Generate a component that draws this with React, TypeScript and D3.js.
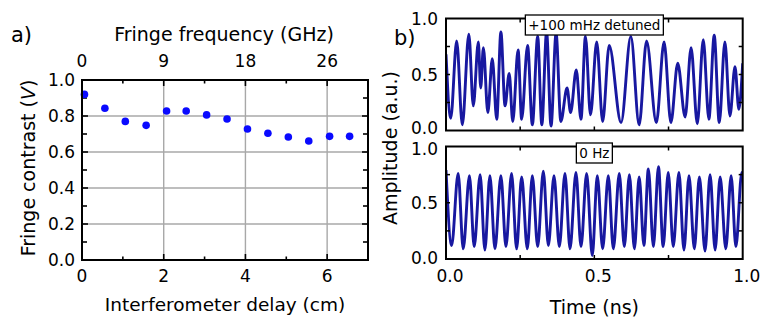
import React from 'react';
import * as d3 from 'd3';

// ---------- Panel a) data ----------
const delayCm = [0.06, 0.56, 1.06, 1.57, 2.07, 2.55, 3.05, 3.55, 4.05, 4.55, 5.05, 5.55, 6.06, 6.55];
const fringeContrast = [0.92, 0.843, 0.77, 0.748, 0.828, 0.828, 0.806, 0.783, 0.728, 0.704, 0.683, 0.661, 0.687, 0.687];
const delayTicks = [0, 2, 4, 6];
const delayMinorTicks = [1, 3, 5];
const contrastTicks = [0, 0.2, 0.4, 0.6, 0.8, 1.0];
const contrastMinorTicks = [0.1, 0.3, 0.5, 0.7, 0.9];
const freqTickLabels = ['0', '9', '18', '26'];

// ---------- Panel b) data (extrema read from the traces) ----------
const detunedTime = [0, 0.016, 0.036, 0.055, 0.077, 0.092, 0.109, 0.117, 0.126, 0.141, 0.156, 0.171, 0.185, 0.199, 0.213, 0.225, 0.243, 0.255, 0.275, 0.291, 0.309, 0.323, 0.339, 0.354, 0.371, 0.387, 0.408, 0.42, 0.439, 0.455, 0.47, 0.487, 0.508, 0.528, 0.55, 0.59, 0.623, 0.651, 0.676, 0.709, 0.735, 0.758, 0.781, 0.806, 0.826, 0.847, 0.867, 0.886, 0.904, 0.921, 0.94, 0.957, 0.974, 0.987, 1.0];
const detunedAmp = [0.68, 0.11, 0.8, 0.05, 0.86, 0.22, 0.79, 0.38, 0.74, 0.16, 0.64, 0.1, 0.88, 0.22, 0.51, 0.08, 0.72, 0.1, 0.76, 0.05, 0.84, 0.05, 0.88, 0.04, 0.87, 0.08, 0.38, 0.16, 0.54, 0.1, 0.84, 0.14, 0.79, 0.08, 0.76, 0.07, 0.84, 0.05, 0.8, 0.07, 0.79, 0.07, 0.6, 0.12, 0.74, 0.06, 0.81, 0.1, 0.85, 0.07, 0.79, 0.13, 0.57, 0.19, 0.6];
const zeroTime = [0, 0.019, 0.041, 0.058, 0.079, 0.095, 0.115, 0.131, 0.148, 0.165, 0.185, 0.202, 0.221, 0.238, 0.255, 0.274, 0.291, 0.309, 0.328, 0.345, 0.364, 0.382, 0.401, 0.418, 0.438, 0.455, 0.474, 0.493, 0.51, 0.528, 0.547, 0.564, 0.584, 0.601, 0.618, 0.635, 0.651, 0.667, 0.682, 0.699, 0.716, 0.732, 0.749, 0.766, 0.785, 0.802, 0.819, 0.837, 0.854, 0.873, 0.89, 0.907, 0.924, 0.943, 0.961, 0.977, 0.997, 1.0];
const zeroAmp = [0.79, 0.12, 0.76, 0.09, 0.74, 0.11, 0.75, 0.08, 0.74, 0.09, 0.74, 0.11, 0.76, 0.09, 0.73, 0.09, 0.74, 0.11, 0.78, 0.12, 0.74, 0.11, 0.76, 0.09, 0.77, 0.11, 0.76, 0.03, 0.74, 0.09, 0.74, 0.09, 0.76, 0.11, 0.75, 0.09, 0.73, 0.12, 0.8, 0.11, 0.82, 0.11, 0.77, 0.11, 0.77, 0.08, 0.74, 0.09, 0.73, 0.07, 0.75, 0.08, 0.73, 0.09, 0.74, 0.11, 0.77, 0.76];
const timeTicks = [0, 0.5, 1.0];
const timeMinorTicks = [0.25, 0.75];
const ampTicks = [0, 0.5, 1.0];
const ampMinorTicks = [0.25, 0.75];

const FONT = "'DejaVu Sans', Verdana, sans-serif";
const GRID = '#a8a8a8';
const DOT = '#0a0aff';
const TRACE = '#1818a0';

type Pt = [number, number];

function WavePanel({ times, amps, x, y, label, labelW, id, lowShift, highShift }: any) {
  const [x0, x1] = x.range();
  const [yb, yt] = y.range();
  const pts: Pt[] = times.map((t: number, i: number) => [t, amps[i]] as Pt);
  const line = d3.line<Pt>().x((d) => x(d[0])).y((d) => y(d[1])).curve(d3.curveMonotoneX);
  const cx = (x0 + x1) / 2;
  return (
    <g>
      <defs>
        <clipPath id={id}>
          <rect x={x0} y={yt} width={x1 - x0} height={yb - yt} />
        </clipPath>
      </defs>
      <path d={line(pts) || ''} fill="none" stroke={TRACE} strokeWidth={2.9} strokeLinejoin="round" clipPath={`url(#${id})`} />
      {timeTicks.concat(timeMinorTicks).filter((t) => t > 0 && t < 1).map((t) => (
        <g key={'xt' + t}>
          <line x1={x(t)} x2={x(t)} y1={yb} y2={yb - 4} stroke="#000" strokeWidth={1.5} />
          <line x1={x(t)} x2={x(t)} y1={yt} y2={yt + 4} stroke="#000" strokeWidth={1.5} />
        </g>
      ))}
      {ampTicks.concat(ampMinorTicks).filter((v) => v > 0 && v < 1).map((v) => (
        <g key={'yt' + v}>
          <line x1={x0} x2={x0 + 4} y1={y(v)} y2={y(v)} stroke="#000" strokeWidth={1.5} />
          <line x1={x1} x2={x1 - 4} y1={y(v)} y2={y(v)} stroke="#000" strokeWidth={1.5} />
        </g>
      ))}
      <rect x={x0} y={yt} width={x1 - x0} height={yb - yt} fill="none" stroke="#000" strokeWidth={2} />
      {ampTicks.map((v) => (
        <text key={'yl' + v} x={x0 - 8} y={y(v) + (v === 0 ? lowShift : v === 1 ? highShift : 0)} dy="0.36em" textAnchor="end" fontSize={17}>
          {d3.format('.1f')(v)}
        </text>
      ))}
      <rect x={cx - labelW / 2} y={yt - 3.5} width={labelW} height={20} fill="#fff" stroke="#000" strokeWidth={1.3} />
      <text x={cx} y={yt + 11.5} textAnchor="middle" fontSize={13.5}>{label}</text>
    </g>
  );
}

export default function App() {
  // Panel a scales
  const xa = d3.scaleLinear().domain([0, 7]).range([82, 368]);
  const ya = d3.scaleLinear().domain([0, 1]).range([260, 80]);
  // Panel b scales
  const xb = d3.scaleLinear().domain([0, 1]).range([446, 742.7]);
  const ybTop = d3.scaleLinear().domain([0, 1]).range([130.5, 18.5]);
  const ybBot = d3.scaleLinear().domain([0, 1]).range([259, 146.5]);

  const [ax0, ax1] = xa.range();
  const [ayb, ayt] = ya.range();

  return (
    <svg width={762} height={320} style={{ position: 'absolute', left: 0, top: 0, background: '#fff' }} fontFamily={FONT}>
      <rect x={0} y={0} width={762} height={320} fill="#fff" />
      {/* ---------- Panel a ---------- */}
      {delayTicks.filter((d) => d > 0).map((d) => (
        <line key={'vg' + d} x1={xa(d)} x2={xa(d)} y1={ayt} y2={ayb} stroke={GRID} strokeWidth={1.4} />
      ))}
      {contrastTicks.filter((v) => v > 0 && v < 1).map((v) => (
        <line key={'hg' + v} x1={ax0} x2={ax1} y1={ya(v)} y2={ya(v)} stroke={GRID} strokeWidth={1.4} />
      ))}
      {delayTicks.filter((d) => d > 0).map((d) => (
        <g key={'dt' + d}>
          <line x1={xa(d)} x2={xa(d)} y1={ayb} y2={ayb - 6} stroke="#000" strokeWidth={1.6} />
          <line x1={xa(d)} x2={xa(d)} y1={ayt} y2={ayt + 6} stroke="#000" strokeWidth={1.6} />
        </g>
      ))}
      {delayMinorTicks.map((d) => (
        <g key={'dm' + d}>
          <line x1={xa(d)} x2={xa(d)} y1={ayb} y2={ayb - 3.5} stroke="#000" strokeWidth={1.6} />
          <line x1={xa(d)} x2={xa(d)} y1={ayt} y2={ayt + 3.5} stroke="#000" strokeWidth={1.6} />
        </g>
      ))}
      {contrastTicks.filter((v) => v > 0 && v < 1).map((v) => (
        <g key={'ct' + v}>
          <line x1={ax0} x2={ax0 + 6} y1={ya(v)} y2={ya(v)} stroke="#000" strokeWidth={1.6} />
          <line x1={ax1} x2={ax1 - 6} y1={ya(v)} y2={ya(v)} stroke="#000" strokeWidth={1.6} />
        </g>
      ))}
      {contrastMinorTicks.map((v) => (
        <g key={'cm' + v}>
          <line x1={ax0} x2={ax0 + 5} y1={ya(v)} y2={ya(v)} stroke="#000" strokeWidth={1.6} />
          <line x1={ax1} x2={ax1 - 5} y1={ya(v)} y2={ya(v)} stroke="#000" strokeWidth={1.6} />
        </g>
      ))}
      {delayCm.map((d, i) => (
        <circle key={'pt' + i} cx={xa(d)} cy={ya(fringeContrast[i])} r={3.8} fill={DOT} />
      ))}
      <rect x={ax0} y={ayt} width={ax1 - ax0} height={ayb - ayt} fill="none" stroke="#000" strokeWidth={2} />
      {contrastTicks.map((v) => (
        <text key={'cl' + v} x={ax0 - 7} y={ya(v)} dy="0.36em" textAnchor="end" fontSize={17}>
          {d3.format('.1f')(v)}
        </text>
      ))}
      {delayTicks.map((d) => (
        <text key={'dl' + d} x={xa(d)} y={282} textAnchor="middle" fontSize={17}>{d}</text>
      ))}
      {delayTicks.map((d, i) => (
        <text key={'fl' + d} x={xa(d)} y={66.5} textAnchor="middle" fontSize={17}>{freqTickLabels[i]}</text>
      ))}
      <text x={(ax0 + ax1) / 2 - 1} y={41} textAnchor="middle" fontSize={19}>Fringe frequency (GHz)</text>
      <text x={(ax0 + ax1) / 2} y={311} textAnchor="middle" fontSize={18.5}>Interferometer delay (cm)</text>
      <text transform={`translate(35,${(ayb + ayt) / 2 - 2}) rotate(-90)`} textAnchor="middle" fontSize={19}>
        Fringe contrast (<tspan fontStyle="italic">V</tspan>)
      </text>
      <text x={11} y={42} fontSize={21}>a)</text>

      {/* ---------- Panel b ---------- */}
      <WavePanel times={detunedTime} amps={detunedAmp} x={xb} y={ybTop} label="+100 mHz detuned" labelW={138} id="clipTop" lowShift={-2.5} highShift={0} />
      <WavePanel times={zeroTime} amps={zeroAmp} x={xb} y={ybBot} label="0 Hz" labelW={36} id="clipBot" lowShift={-1.5} highShift={2} />
      {timeTicks.map((t) => (
        <text key={'tl' + t} x={xb(t) + 4} y={282} textAnchor="middle" fontSize={17}>{d3.format('.1f')(t)}</text>
      ))}
      <text x={(xb(0) + xb(1)) / 2} y={314} textAnchor="middle" fontSize={19}>Time (ns)</text>
      <text transform={`translate(397,148) rotate(-90)`} textAnchor="middle" fontSize={19}>Amplitude (a.u.)</text>
      <text x={394} y={45} fontSize={21}>b)</text>
    </svg>
  );
}
